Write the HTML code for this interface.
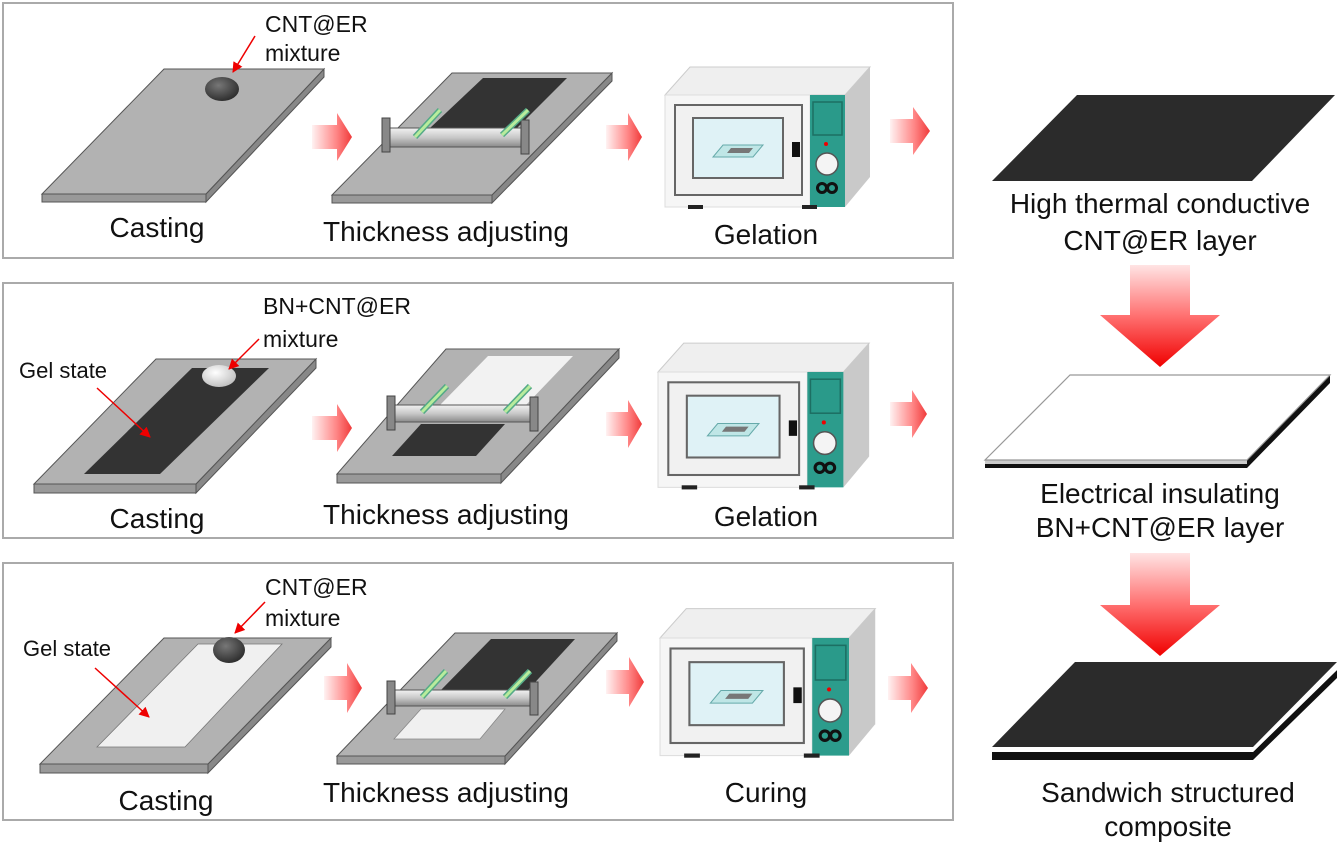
<!DOCTYPE html>
<html><head><meta charset="utf-8"><style>
html,body{margin:0;padding:0;background:#fff;}
svg{display:block;}
text{font-family:"Liberation Sans",Arial,sans-serif;fill:#111;}
</style></head><body>
<svg width="1339" height="845" viewBox="0 0 1339 845" xmlns="http://www.w3.org/2000/svg">
<defs>
<linearGradient id="ha" x1="0" y1="0" x2="1" y2="0">
<stop offset="0" stop-color="#fff2f2"/><stop offset="0.6" stop-color="#f88"/><stop offset="1" stop-color="#f03a3a"/></linearGradient>
<linearGradient id="va" x1="0" y1="0" x2="0" y2="1">
<stop offset="0" stop-color="#ffe4e4"/><stop offset="0.5" stop-color="#ff7070"/><stop offset="1" stop-color="#f00000"/></linearGradient>
<linearGradient id="bar" x1="0" y1="0" x2="0" y2="1">
<stop offset="0" stop-color="#f2f2f2"/><stop offset="0.5" stop-color="#c8c8c8"/><stop offset="1" stop-color="#8a8a8a"/></linearGradient>
<radialGradient id="dball" cx="0.4" cy="0.35" r="0.7"><stop offset="0" stop-color="#777"/><stop offset="1" stop-color="#2a2a2a"/></radialGradient>
<radialGradient id="wball" cx="0.4" cy="0.35" r="0.7"><stop offset="0" stop-color="#fff"/><stop offset="1" stop-color="#bdbdbd"/></radialGradient>
<marker id="rh" viewBox="0 0 10 10" refX="9" refY="5" markerWidth="7" markerHeight="7" orient="auto"><path d="M0,0 L10,5 L0,10 Z" fill="#e00"/></marker>
<g id="oven">
<polygon points="0,0 25,-28 205,-28 180,0" fill="#efefef" stroke="#ccc"/>
<polygon points="180,0 205,-28 205,82 180,112" fill="#c9c9c9"/>
<rect x="0" y="0" width="145" height="112" fill="#f6f6f6" stroke="#ddd"/>
<rect x="145" y="0" width="35" height="112" fill="#2c9c8c"/>
<rect x="10" y="10" width="127" height="90" fill="#f1f1f1" stroke="#666" stroke-width="2"/>
<rect x="28" y="23" width="90" height="60" fill="#dff2f6" stroke="#666" stroke-width="2"/>
<polygon points="58,50 98,50 88,62 48,62" fill="#bfe6e6" stroke="#6aa" stroke-width="1"/>
<polygon points="66,53 88,53 84,58 62,58" fill="#777"/>
<rect x="127" y="47" width="8" height="15" fill="#111"/>
<rect x="148" y="7" width="29" height="33" fill="#2a9a8a" stroke="#1d6f63" stroke-width="1.5"/>
<circle cx="161" cy="49" r="2" fill="#e00"/>
<circle cx="162" cy="69" r="11" fill="#f4f4f4" stroke="#555" stroke-width="1.5"/>
<circle cx="157" cy="93" r="4.5" fill="none" stroke="#111" stroke-width="3"/>
<circle cx="167" cy="93" r="4.5" fill="none" stroke="#111" stroke-width="3"/>
<rect x="23" y="110" width="15" height="4" fill="#222"/>
<rect x="137" y="110" width="15" height="4" fill="#222"/>
</g>
</defs>

<!-- boxes -->
<rect x="3" y="3" width="950" height="255" fill="#fff" stroke="#aaa" stroke-width="2"/>
<rect x="3" y="283" width="950" height="255" fill="#fff" stroke="#aaa" stroke-width="2"/>
<rect x="3" y="563" width="950" height="257" fill="#fff" stroke="#aaa" stroke-width="2"/>

<!-- ROW 1 -->
<polygon points="42,194 206,194 206,202 42,202" fill="#999" stroke="#555"/>
<polygon points="324,69 324,77 206,202 206,194" fill="#888" stroke="#555"/>
<polygon points="164,69 324,69 206,194 42,194" fill="#b2b2b2" stroke="#555"/>
<ellipse cx="222" cy="89" rx="17" ry="12" fill="url(#dball)"/>
<line x1="255" y1="36" x2="233" y2="72" stroke="#e00" stroke-width="1.5" marker-end="url(#rh)"/>
<text x="265" y="32" font-size="23">CNT@ER</text>
<text x="265" y="61" font-size="23">mixture</text>
<text x="157" y="237" font-size="28" text-anchor="middle">Casting</text>

<polygon points="332,195 492,195 492,203 332,203" fill="#999" stroke="#555"/>
<polygon points="612,73 612,81 492,203 492,195" fill="#888" stroke="#555"/>
<polygon points="452,73 612,73 492,195 332,195" fill="#b2b2b2" stroke="#555"/>
<polygon points="483,78 567,78 517,128 430,128" fill="#333"/>
<rect x="383" y="128" width="145" height="19" fill="url(#bar)" stroke="#555"/>
<rect x="382" y="118" width="8" height="34" fill="#888" stroke="#444"/>
<rect x="521" y="120" width="8" height="34" fill="#888" stroke="#444"/>
<line x1="415" y1="137" x2="440" y2="110" stroke="#5a8" stroke-width="6"/><line x1="415" y1="137" x2="440" y2="110" stroke="#b8ec9c" stroke-width="3"/>
<line x1="502" y1="135" x2="528" y2="110" stroke="#5a8" stroke-width="6"/><line x1="502" y1="135" x2="528" y2="110" stroke="#b8ec9c" stroke-width="3"/>
<text x="446" y="241" font-size="28" text-anchor="middle">Thickness adjusting</text>

<use href="#oven" transform="translate(665,95)"/>
<text x="766" y="244" font-size="28" text-anchor="middle">Gelation</text>

<path d="M312,125 L337,125 L337,113 L352,137 L337,161 L337,149 L312,149 Z" fill="url(#ha)"/>
<path d="M606,125 L628,125 L628,113 L642,137 L628,161 L628,149 L606,149 Z" fill="url(#ha)"/>
<path d="M890,119 L913,119 L913,107 L930,131 L913,155 L913,143 L890,143 Z" fill="url(#ha)"/>

<!-- ROW 2 -->
<polygon points="34,484 196,484 196,493 34,493" fill="#999" stroke="#555"/>
<polygon points="316,359 316,368 196,493 196,484" fill="#888" stroke="#555"/>
<polygon points="156,359 316,359 196,484 34,484" fill="#b2b2b2" stroke="#555"/>
<polygon points="192,368 269,368 160,474 84,474" fill="#333"/>
<ellipse cx="219" cy="376" rx="17" ry="11" fill="url(#wball)"/>
<line x1="97" y1="388" x2="150" y2="437" stroke="#e00" stroke-width="1.5" marker-end="url(#rh)"/>
<line x1="259" y1="339" x2="229" y2="369" stroke="#e00" stroke-width="1.5" marker-end="url(#rh)"/>
<text x="19" y="378" font-size="22">Gel state</text>
<text x="263" y="314" font-size="23">BN+CNT@ER</text>
<text x="263" y="347" font-size="23">mixture</text>
<text x="157" y="528" font-size="28" text-anchor="middle">Casting</text>

<polygon points="337,474 501,474 501,483 337,483" fill="#999" stroke="#555"/>
<polygon points="619,349 619,358 501,483 501,474" fill="#888" stroke="#555"/>
<polygon points="446,349 619,349 501,474 337,474" fill="#b2b2b2" stroke="#555"/>
<polygon points="488,356 573,356 526,405 440,405" fill="#f2f2f2"/>
<polygon points="421,424 505,424 476,456 392,456" fill="#333"/>
<rect x="389" y="405" width="146" height="17" fill="url(#bar)" stroke="#555"/>
<rect x="387" y="396" width="8" height="34" fill="#888" stroke="#444"/>
<rect x="530" y="397" width="8" height="34" fill="#888" stroke="#444"/>
<line x1="422" y1="412" x2="447" y2="386" stroke="#5a8" stroke-width="6"/><line x1="422" y1="412" x2="447" y2="386" stroke="#b8ec9c" stroke-width="3"/>
<line x1="505" y1="412" x2="530" y2="386" stroke="#5a8" stroke-width="6"/><line x1="505" y1="412" x2="530" y2="386" stroke="#b8ec9c" stroke-width="3"/>
<text x="446" y="524" font-size="28" text-anchor="middle">Thickness adjusting</text>

<use href="#oven" transform="translate(658,372) scale(1.03)"/>
<text x="766" y="526" font-size="28" text-anchor="middle">Gelation</text>

<path d="M312,416 L337,416 L337,404 L352,428 L337,452 L337,440 L312,440 Z" fill="url(#ha)"/>
<path d="M606,412 L628,412 L628,400 L642,424 L628,448 L628,436 L606,436 Z" fill="url(#ha)"/>
<path d="M890,402 L912,402 L912,390 L927,414 L912,438 L912,426 L890,426 Z" fill="url(#ha)"/>

<!-- ROW 3 -->
<polygon points="40,764 208,764 208,773 40,773" fill="#999" stroke="#555"/>
<polygon points="331,638 331,647 208,773 208,764" fill="#888" stroke="#555"/>
<polygon points="164,638 331,638 208,764 40,764" fill="#b2b2b2" stroke="#555"/>
<polygon points="198,644 282,644 185,747 97,747" fill="#f0f0f0" stroke="#777" stroke-width="0.8"/>
<ellipse cx="229" cy="650" rx="16" ry="13" fill="url(#dball)"/>
<line x1="95" y1="668" x2="149" y2="717" stroke="#e00" stroke-width="1.5" marker-end="url(#rh)"/>
<line x1="265" y1="602" x2="235" y2="633" stroke="#e00" stroke-width="1.5" marker-end="url(#rh)"/>
<text x="23" y="656" font-size="22">Gel state</text>
<text x="265" y="595" font-size="23">CNT@ER</text>
<text x="265" y="626" font-size="23">mixture</text>
<text x="166" y="810" font-size="28" text-anchor="middle">Casting</text>

<polygon points="337,756 505,756 505,764 337,764" fill="#999" stroke="#555"/>
<polygon points="617,633 617,641 505,764 505,756" fill="#888" stroke="#555"/>
<polygon points="455,633 617,633 505,756 337,756" fill="#b2b2b2" stroke="#555"/>
<polygon points="491,639 575,639 528,690 441,690" fill="#333"/>
<polygon points="421,709 505,709 480,739 394,739" fill="#f0f0f0" stroke="#888" stroke-width="0.8"/>
<rect x="389" y="690" width="146" height="16" fill="url(#bar)" stroke="#555"/>
<rect x="387" y="681" width="8" height="33" fill="#888" stroke="#444"/>
<rect x="530" y="682" width="8" height="33" fill="#888" stroke="#444"/>
<line x1="422" y1="697" x2="446" y2="671" stroke="#5a8" stroke-width="6"/><line x1="422" y1="697" x2="446" y2="671" stroke="#b8ec9c" stroke-width="3"/>
<line x1="505" y1="697" x2="530" y2="671" stroke="#5a8" stroke-width="6"/><line x1="505" y1="697" x2="530" y2="671" stroke="#b8ec9c" stroke-width="3"/>
<text x="446" y="802" font-size="28" text-anchor="middle">Thickness adjusting</text>

<use href="#oven" transform="translate(660,638) scale(1.05)"/>
<text x="766" y="802" font-size="28" text-anchor="middle">Curing</text>

<path d="M324,676 L347,676 L347,663 L362,688 L347,713 L347,700 L324,700 Z" fill="url(#ha)"/>
<path d="M606,670 L629,670 L629,657 L644,682 L629,707 L629,694 L606,694 Z" fill="url(#ha)"/>
<path d="M888,676 L911,676 L911,663 L928,688 L911,713 L911,700 L888,700 Z" fill="url(#ha)"/>

<!-- RIGHT COLUMN -->
<polygon points="1077,95 1335,95 1252,181 992,181" fill="#2b2b2b"/>
<text x="1160" y="213" font-size="28" text-anchor="middle">High thermal conductive</text>
<text x="1160" y="250" font-size="28" text-anchor="middle">CNT@ER layer</text>
<path d="M1130,265 L1190,265 L1190,315 L1220,315 L1160,367 L1100,315 L1130,315 Z" fill="url(#va)"/>
<polygon points="985,460 1247,460 1247,468 985,468" fill="#111"/>
<polygon points="1330,375 1330,383 1247,468 1247,460" fill="#111"/>
<polygon points="985,460 1247,460 1247,464 985,464" fill="#ccc"/>
<polygon points="1070,375 1330,375 1247,460 985,460" fill="#fff" stroke="#999" stroke-width="1.2"/>
<text x="1160" y="503" font-size="28" text-anchor="middle">Electrical insulating</text>
<text x="1160" y="537" font-size="28" text-anchor="middle">BN+CNT@ER layer</text>
<path d="M1130,553 L1190,553 L1190,605 L1220,605 L1160,656 L1100,605 L1130,605 Z" fill="url(#va)"/>
<polygon points="992,750 1253,750 1253,760 992,760" fill="#111"/>
<polygon points="1337,670 1337,678 1253,760 1253,752" fill="#111"/>
<polygon points="992,747 1253,747 1253,752 992,752" fill="#fff"/>
<polygon points="1337,664 1337,670 1253,752 1253,747" fill="#fff"/>
<polygon points="1075,662 1337,662 1253,747 992,747" fill="#2b2b2b"/>
<text x="1168" y="802" font-size="28" text-anchor="middle">Sandwich structured</text>
<text x="1168" y="836" font-size="28" text-anchor="middle">composite</text>
</svg>
</body></html>
